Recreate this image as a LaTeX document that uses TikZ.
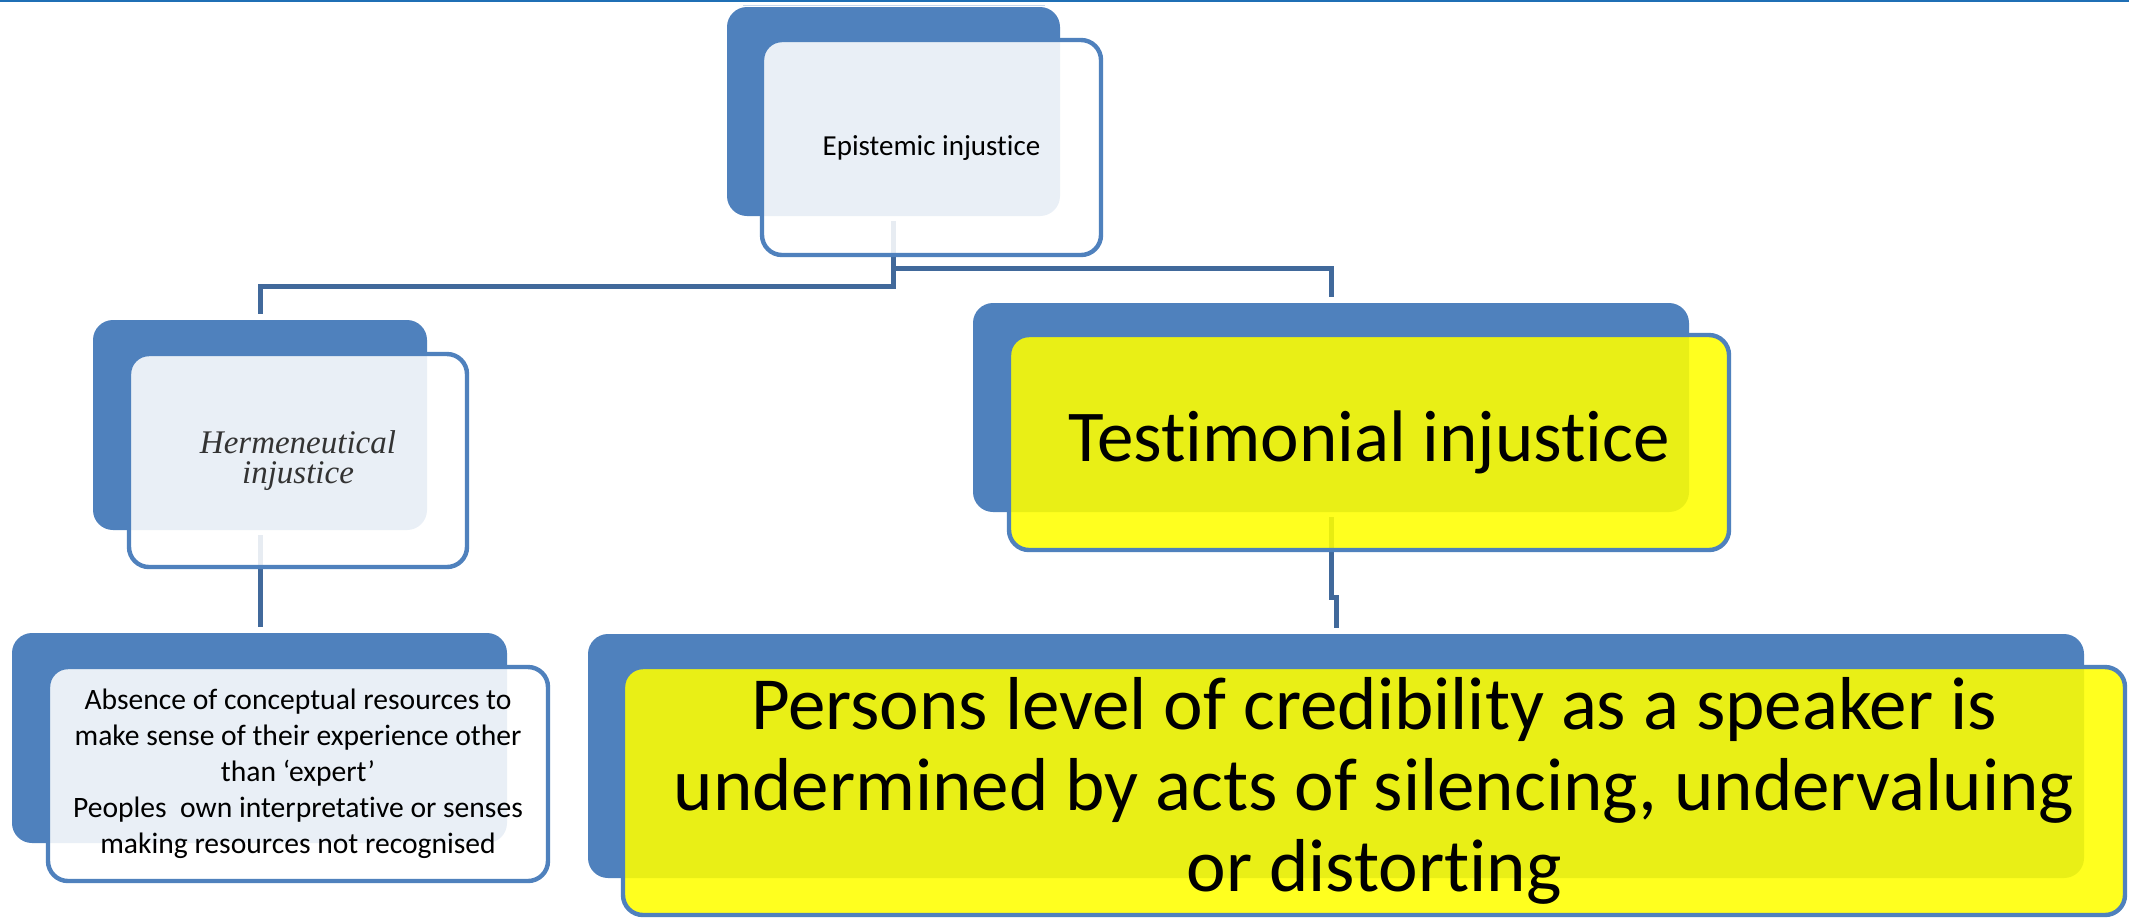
\documentclass[tikz,border=0pt]{standalone}
\usepackage{fontspec}
\setmainfont{Carlito}[Ligatures=NoCommon]
\newfontfamily\italicserif{Liberation Serif}
\usetikzlibrary{calc}

\definecolor{accent}{HTML}{4F81BD}
\definecolor{linkblue}{HTML}{41699B}
\definecolor{topline}{HTML}{1F6FB5}
\definecolor{toplight}{HTML}{C5D7EC}
\definecolor{hilite}{HTML}{FFFF00}
\definecolor{softtext}{HTML}{333333}

\begin{document}
\begin{tikzpicture}[x=0.5pt,y=-0.5pt,
  back/.style={draw=none, fill=accent, rounded corners=10pt, inner sep=0pt},
  front/.style={draw=accent, line width=2.2pt, rounded corners=10pt,
    fill opacity=0.88, text opacity=1, inner sep=0pt, align=center},
  plainbox/.style={front, fill=white},
  markedbox/.style={front, fill=hilite},
  link/.style={draw=linkblue, line width=2.5pt, shorten >=3pt}]

% canvas
\fill[white] (0,0) rectangle (2129,918);
\useasboundingbox (0,0) rectangle (2129,918);
\draw[topline, line width=1pt] (0,1) -- (2129,1);
\draw[toplight, line width=0.6pt] (743,5.5) -- (1045,5.5);

% back plates
\node[back, minimum width=166.5pt, minimum height=104.5pt] (eBack) at (893.5,111.5) {};
\node[back, minimum width=167pt,   minimum height=105pt]   (hBack) at (260,425) {};
\node[back, minimum width=247.5pt, minimum height=105pt]   (aBack) at (259.5,738) {};
\node[back, minimum width=358pt,   minimum height=104.5pt] (tBack) at (1331,407.5) {};
\node[back, minimum width=748pt,   minimum height=122pt]   (pBack) at (1336,756) {};

% connectors
\draw[link, shorten <=2.5pt] (eBack.south) -- ++(0,70) -| (hBack.north);
\draw[link] ($(eBack.south)+(0,52)$) -| (tBack.north);
\draw[link, shorten <=2.5pt] (hBack.south) -- (hBack.south |- aBack.north);
\draw[link, shorten <=2.5pt] (tBack.south) -- ++(0,85) -| (pBack.north);

% front cards with their texts
\node[plainbox, minimum width=169.5pt, minimum height=107.5pt,
  font=\fontsize{14.5pt}{17.5pt}\selectfont] (eFront) at (931.5,147.5)
  {Epistemic injustice};
\node[plainbox, minimum width=169pt, minimum height=106.5pt, text=softtext,
  font=\italicserif\itshape\fontsize{16.5pt}{15pt}\selectfont] (hFront) at (298,460.5)
  {Hermeneutical\\injustice};
\node[plainbox, minimum width=250pt, minimum height=107pt,
  font=\fontsize{14.8pt}{18pt}\selectfont] (aFront) at (298,774)
  {Absence of conceptual resources to\\make sense of their experience other\\than `expert'\\Peoples\ \ own interpretative or senses\\making resources not recognised};
\node[markedbox, minimum width=360pt, minimum height=107.5pt,
  font=\fontsize{36.5pt}{40pt}\selectfont] (tFront) at (1369,442.5)
  {Testimonial injustice};
\node[markedbox, minimum width=751pt, minimum height=124pt,
  font=\fontsize{37.5pt}{40.5pt}\selectfont] (pFront) at (1374,791)
  {Persons level of credibility as a speaker is\\undermined by acts of silencing, undervaluing\\or distorting};
\end{tikzpicture}
\end{document}
